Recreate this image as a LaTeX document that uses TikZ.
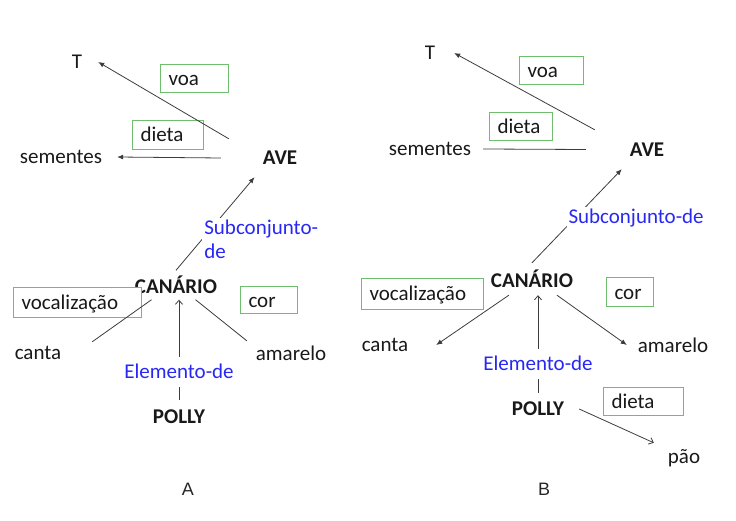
\documentclass[tikz,border=0pt]{standalone}
\usepackage{fontspec}
\setmainfont{Carlito}
\newfontfamily\panelfont{Liberation Sans}
\usepackage{xcolor}
\usetikzlibrary{arrows.meta,positioning}
\definecolor{boxgreen}{RGB}{110,190,110}
\definecolor{relblue}{RGB}{40,40,245}
\definecolor{inkgray}{RGB}{60,60,60}
\tikzset{
  concept/.style={font=\fontsize{21}{24}\selectfont, inner sep=2pt, text=black!90},
  category/.style={concept, font=\fontsize{21}{24}\selectfont\bfseries},
  relbox/.style={concept, draw=boxgreen, line width=1pt, fill=white, anchor=north west, inner xsep=8pt, inner ysep=0pt, align=left, text height=14pt, text depth=0pt},
  rellabel/.style={concept, text=relblue, fill=white},
  panel/.style={font=\panelfont\fontsize{18}{20}\selectfont, text=black!85},
  link/.style={draw=inkgray, line width=0.8pt},
  arr/.style={link, -{Latex[length=6pt,width=5pt]}},
  openarr/.style={link, -{Straight Barb[length=4pt,width=7pt]}}
}
\begin{document}
\begin{tikzpicture}[x=1pt,y=-1pt]
\useasboundingbox (0,0) rectangle (736,521);

% A
\node[concept, minimum width=42pt](tA) at (77,62) {T};
\node[concept, minimum width=112pt](semA) at (61,157) {sementes};
\node[category, minimum width=118pt, minimum height=38pt](aveA) at (280,158) {AVE};
\node[category, minimum height=29pt](canA) at (176,285) {CANÁRIO};
\node[concept, minimum width=108pt, minimum height=22pt](cantaA) at (38,353) {canta};
\node[concept, minimum width=88pt, minimum height=24pt](amaA) at (291,353) {amarelo};
\node[category, minimum height=34pt](pollyA) at (179,417) {POLLY};

\node[relbox, text width=52pt, minimum height=28pt](voaA) at (160,64) {voa};
\node[relbox, text width=55pt, minimum height=29pt](dietaA) at (132,120) {dieta};
\node[relbox, text width=112pt, minimum height=30pt](vocA) at (13,287) {vocalização};
\node[relbox, text width=41pt, minimum height=27pt](corA) at (240,286) {cor};

\draw[arr] ([xshift=8pt]aveA.north west) -- (tA.east);
\draw[arr] (aveA.west) -- (semA.east);
\draw[arr] (canA.north) -- node[rellabel, pos=0.33, anchor=west, align=left](subA) {Subconjunto-\\de} (aveA.217);
\draw[link] (canA.211) -- (cantaA.north east);
\draw[link] (canA.-37) -- (amaA.north west);
\draw[openarr] (pollyA.north) -- node[rellabel, pos=0.28, minimum height=30pt](elemA) {Elemento-de} (pollyA.north |- canA.south);

\node[panel](labA) at (188,489) {A};

% B
\node[concept, minimum width=48pt](tB) at (430,53) {T};
\node[concept, minimum width=106pt](semB) at (430,149) {sementes};
\node[category, minimum width=122pt, minimum height=39pt](aveB) at (647,149.5) {AVE};
\node[category, minimum height=32pt](canB) at (532,279) {CANÁRIO};
\node[concept, minimum width=102pt](cantaB) at (385,345) {canta};
\node[concept, minimum width=92pt](amaB) at (673,345) {amarelo};
\node[category, minimum width=82pt, minimum height=32pt](pollyB) at (538,409) {POLLY};
\node[concept, minimum width=60pt, minimum height=30pt](paoB) at (684,458) {pão};

\node[relbox, text width=48pt, minimum height=28pt](voaB) at (519,56) {voa};
\node[relbox, text width=47pt, minimum height=28pt](dietaB) at (489,112) {dieta};
\node[relbox, text width=106pt, minimum height=31pt](vocB) at (361,278) {vocalização};
\node[relbox, text width=31pt, minimum height=29pt](corB) at (606,277) {cor};
\node[relbox, text width=64pt, minimum height=28pt](dietaPB) at (603,387) {dieta};

\draw[arr] ([xshift=9pt]aveB.north west) -- (tB.east);
\draw[link] (aveB.west) -- (semB.east);
\draw[arr] (canB.north) -- node[rellabel, pos=0.48, anchor=west, xshift=-9pt](subB) {Subconjunto-de} (aveB.218);
\draw[arr] (canB.215) -- (cantaB.east);
\draw[arr] (canB.-33) -- (amaB.west);
\draw[openarr] (pollyB.north) -- node[rellabel, pos=0.3, minimum height=30pt](elemB) {Elemento-de} (pollyB.north |- canB.south);
\draw[openarr] (pollyB.east) -- (paoB.north west);

\node[panel](labB) at (544,489) {B};
\end{tikzpicture}
\end{document}
